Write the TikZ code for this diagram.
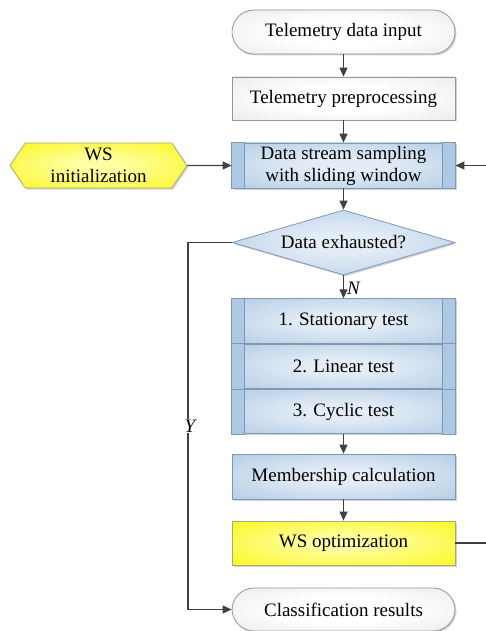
\documentclass[tikz,border=0pt]{standalone}
\usepackage{fontspec}
\setmainfont{Liberation Serif}
\usetikzlibrary{arrows.meta,shapes.geometric,shapes.symbols,shadows}

\definecolor{blueedge}{RGB}{163,193,223}
\definecolor{bluecore}{RGB}{228,237,247}
\definecolor{bluebar}{RGB}{172,200,228}
\definecolor{blueline}{RGB}{128,152,178}
\definecolor{yellowedge}{RGB}{250,245,0}
\definecolor{yellowcore}{RGB}{255,255,165}
\definecolor{yellowline}{RGB}{170,170,120}
\definecolor{grayedge}{RGB}{220,220,220}
\definecolor{graycore}{RGB}{255,255,255}
\definecolor{grayline}{RGB}{150,150,150}
\definecolor{wire}{RGB}{64,64,64}

% soft glow fills: light core fading to a darker rim
\pgfdeclareradialshading{blueglow}{\pgfpointorigin}{color(0bp)=(bluecore); color(8bp)=(bluecore); color(46bp)=(blueedge); color(80bp)=(blueedge)}
\pgfdeclareradialshading{yellowglow}{\pgfpointorigin}{color(0bp)=(yellowcore); color(6bp)=(yellowcore); color(44bp)=(yellowedge); color(80bp)=(yellowedge)}
\pgfdeclareradialshading{grayglow}{\pgfpointorigin}{color(0bp)=(graycore); color(15bp)=(graycore); color(52bp)=(grayedge); color(80bp)=(grayedge)}

\begin{document}
\begin{tikzpicture}[x=1pt,y=-1pt,
  every node/.style={font=\fontsize{19}{22}\selectfont, text=black, inner sep=0pt, align=center},
  soft/.style={drop shadow={shadow xshift=1.5pt, shadow yshift=-1.5pt, fill=black, opacity=0.18}},
  termbox/.style={draw=grayline, line width=0.8pt, shading=grayglow, rounded corners=22pt,
    minimum width=223pt, minimum height=44pt, soft},
  plainbox/.style={draw=grayline, line width=0.8pt, shading=grayglow,
    minimum width=223pt, minimum height=43pt, soft},
  procbox/.style={draw=blueline, line width=0.8pt, shading=blueglow,
    minimum width=223pt, minimum height=45pt, soft},
  yellowbox/.style={draw=yellowline, line width=0.8pt, shading=yellowglow,
    minimum width=223pt, minimum height=44pt, soft},
  decision/.style={draw=blueline, line width=0.8pt, shading=blueglow, shape=diamond,
    aspect=3.4, minimum width=223pt, minimum height=65pt, soft},
  prepbox/.style={draw=yellowline, line width=0.8pt, shading=yellowglow, shape=signal,
    signal to=west and east, signal pointer angle=112, minimum width=177pt, minimum height=45pt, soft},
  sidebar/.style={fill=bluebar, draw=blueline, line width=0.8pt},
  flow/.style={draw=wire, line width=1.2pt, -{Triangle[length=9pt,width=8pt]}},
  wireline/.style={draw=wire, line width=1.2pt},
  branch/.style={font=\fontsize{19}{22}\selectfont\itshape}
]
\useasboundingbox (0,0) rectangle (485,631);

% main column
\node[termbox] (inp) at (343.5,32) {Telemetry data input};
\node[plainbox] (pre) at (343.5,98.5) {Telemetry preprocessing};
\node[procbox] (win) at (343.5,165.5) {Data stream sampling\\with sliding window};
\node[prepbox] (init) at (98.5,165.5) {WS\\initialization};
\node[decision] (dex) at (343.5,242.5) {Data exhausted?};

% stacked feature tests
\node[procbox, minimum height=44.5pt] (t1) at (343.5,321) {1. Stationary test};
\node[procbox, minimum height=44.5pt, anchor=north, drop shadow={opacity=0}] (t2) at (t1.south) {2. Linear test};
\node[procbox, minimum height=44.5pt, anchor=north, drop shadow={opacity=0}] (t3) at (t2.south) {3. Cyclic test};

\node[procbox] (mem) at (343.5,476.5) {Membership calculation};
\node[yellowbox] (opt) at (343.5,543) {WS optimization};
\node[termbox, minimum height=43pt] (cls) at (343.5,609.5) {Classification results};

% side bars of the predefined-process boxes
\draw[sidebar] (win.north west) rectangle ([xshift=13pt]win.south west);
\draw[sidebar] (win.north east) rectangle ([xshift=-13pt]win.south east);
\draw[sidebar] (t1.north west) rectangle ([xshift=13pt]t3.south west);
\draw[sidebar] (t1.north east) rectangle ([xshift=-13pt]t3.south east);
\draw[blueline, line width=0.8pt] (t1.south west) -- (t1.south east) (t2.south west) -- (t2.south east);

% connectors
\coordinate (rtop) at (487,165.5);
\coordinate (rbot) at (487,543);
\coordinate (yturn) at (188,242.5);

\draw[flow] (inp) -- (pre);
\draw[flow] (pre) -- (win);
\draw[flow] (init) -- (win);
\draw[flow] (win) -- (dex);
\draw[flow] (dex) -- node[branch, anchor=west, xshift=3pt, yshift=-1pt] (nlab) {N} (t1);
\draw[flow] (t3) -- (mem);
\draw[flow] (mem) -- (opt);
\draw[wireline] (opt.east) -- (rbot) -- (rtop);
\draw[flow] (rtop) -- (win.east);
\draw[flow] (dex.west) -- (yturn) |- (cls.west);
\node[branch, fill=white, inner sep=1pt] (ylab) at (190,426) {Y};
\end{tikzpicture}
\end{document}
